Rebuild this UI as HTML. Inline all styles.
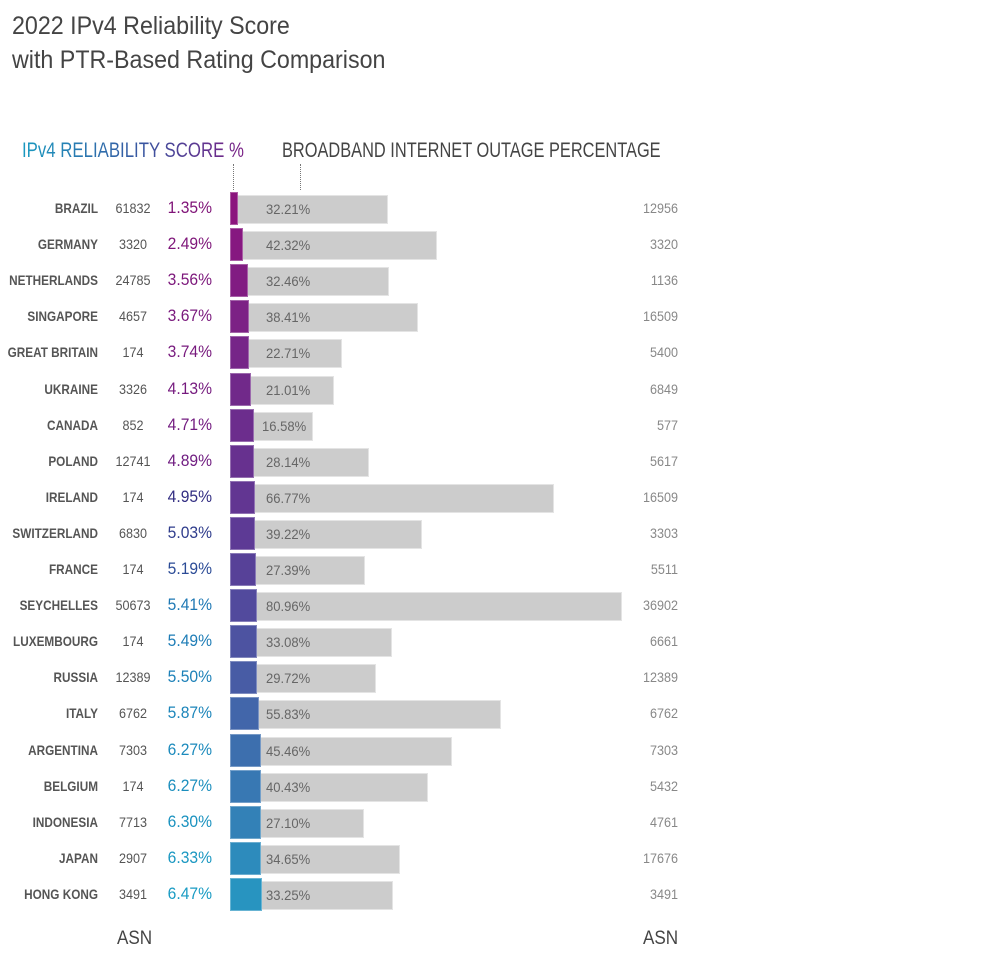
<!DOCTYPE html><html><head><style>
body{margin:0;width:1000px;height:962px;background:#fff;font-family:"Liberation Sans",sans-serif;position:relative;overflow:hidden}
div{position:absolute;white-space:nowrap}
.t{left:12px;font-size:25px;color:#444;transform:scaleX(.93);transform-origin:left}
.c{width:150px;left:-52px;text-align:right;font-weight:bold;font-size:14px;color:#555;transform:scaleX(.84);transform-origin:right}
.a{width:60px;left:103px;text-align:center;font-size:14px;color:#555;transform:scaleX(.9)}
.p{width:212px;left:0;text-align:right;font-size:17px;transform:scaleX(.92);transform-origin:right}
.g{background:#cccccc;height:29px;border:1px solid #e4e4e4;box-sizing:border-box}
.gl{font-size:14px;color:#666;transform:scaleX(.93);transform-origin:left}
.r{width:678px;left:0;text-align:right;font-size:14px;color:#888;transform:scaleX(.9);transform-origin:right}
.b{left:230px;height:33px;border:1px solid rgba(255,255,255,.3);box-sizing:border-box}
</style></head><body>
<div class="t" style="top:12px">2022 IPv4 Reliability Score</div>
<div class="t" style="top:46px">with PTR-Based Rating Comparison</div>
<div style="left:22px;top:139px;font-size:21px;transform:scaleX(.8);transform-origin:left;background:linear-gradient(90deg,#1a9ac0,#3a55a0 55%,#7a1f85);-webkit-background-clip:text;background-clip:text;color:transparent">IPv4 RELIABILITY SCORE %</div>
<div style="left:282px;top:139px;font-size:21px;color:#444;transform:scaleX(.78);transform-origin:left">BROADBAND INTERNET OUTAGE PERCENTAGE</div>
<div style="left:233px;top:164px;height:26px;border-left:1px dotted #777"></div>
<div style="left:300px;top:164px;height:26px;border-left:1px dotted #777"></div>
<div style="left:117px;top:928px;font-size:19px;color:#444;transform:scaleX(.9);transform-origin:left">ASN</div>
<div style="left:643px;top:928px;font-size:19px;color:#444;transform:scaleX(.9);transform-origin:left">ASN</div>
<div id="rows"></div>
<script>
var d=[["BRAZIL",61832,1.35,32.21,12956],["GERMANY",3320,2.49,42.32,3320],["NETHERLANDS",24785,3.56,32.46,1136],["SINGAPORE",4657,3.67,38.41,16509],["GREAT BRITAIN",174,3.74,22.71,5400],["UKRAINE",3326,4.13,21.01,6849],["CANADA",852,4.71,16.58,577],["POLAND",12741,4.89,28.14,5617],["IRELAND",174,4.95,66.77,16509],["SWITZERLAND",6830,5.03,39.22,3303],["FRANCE",174,5.19,27.39,5511],["SEYCHELLES",50673,5.41,80.96,36902],["LUXEMBOURG",174,5.49,33.08,6661],["RUSSIA",12389,5.50,29.72,12389],["ITALY",6762,5.87,55.83,6762],["ARGENTINA",7303,6.27,45.46,7303],["BELGIUM",174,6.27,40.43,5432],["INDONESIA",7713,6.30,27.10,4761],["JAPAN",2907,6.33,34.65,17676],["HONG KONG",3491,6.47,33.25,3491]];
function mix(a,b,t){return a.map((v,i)=>Math.round(v+(b[i]-v)*t))}
var P=[139,20,125],M=[90,60,150],T=[40,148,192];
var h="";
d.forEach((r,i)=>{var y=209+i*36.1,t=i/19;
var c=t<0.5?mix(P,M,t*2):mix(M,T,(t-.5)*2);
var pc=i<8?mix([128,20,120],[110,30,130],i/8):(i<11?mix([50,45,130],[40,90,160],(i-8)/3):mix([30,120,180],[25,155,195],(i-11)/8));
var w=Math.max(7,r[2]*4.8),ge=233.5+4.8*r[3];
h+=`<div class="c" style="top:${y-9}px">${r[0]}</div><div class="a" style="top:${y-9}px">${r[1]}</div><div class="p" style="top:${y-11}px;color:rgb(${pc})">${r[2].toFixed(2)}%</div>`;
h+=`<div class="g" style="left:${230+w}px;width:${ge-230-w}px;top:${y-14}px"></div>`;
h+=`<div class="b" style="top:${y-17}px;width:${w+1}px;background:rgb(${c})"></div>`;
h+=`<div class="gl" style="left:${r[3]<20?262:266}px;top:${y-8}px">${r[3].toFixed(2)}%</div><div class="r" style="top:${y-9}px">${r[4]}</div>`;});
document.getElementById("rows").innerHTML=h;
</script>
</body></html>
